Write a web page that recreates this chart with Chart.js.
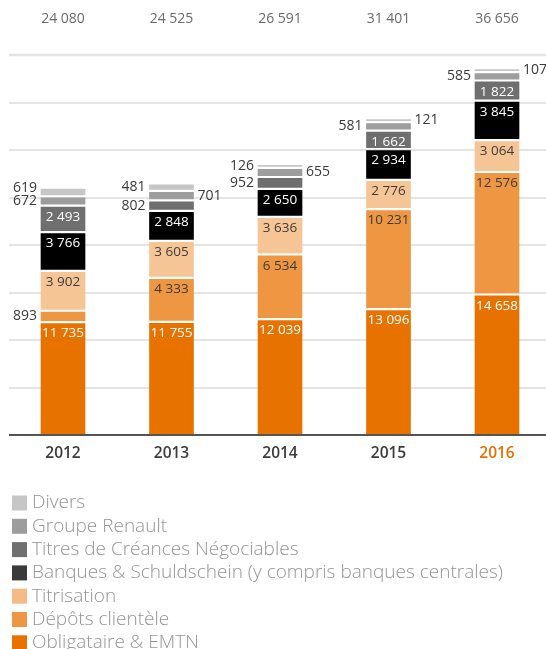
<!DOCTYPE html>
<html>
<head>
<meta charset="utf-8">
<script src="https://cdn.jsdelivr.net/npm/chart.js@4"></script>
<style>
  body { margin: 0; background: #fff; }
  #wrap { width: 546px; height: 649px; }
</style>
</head>
<body>
<div id="wrap"><canvas id="mychart" width="546" height="649"></canvas></div>
<script>
const years = ['2012', '2013', '2014', '2015', '2016'];
const totals = [24080, 24525, 26591, 31401, 36656];

// series, from the bottom of the stack up
const obligataire = [11735, 11755, 12039, 13096, 14658];
const depots = [893, 4333, 6534, 10231, 12576];
const titrisation = [3902, 3605, 3636, 2776, 3064];
const banques = [3766, 2848, 2650, 2934, 3845];
const titresCreances = [2493, 802, 952, 1662, 1822];
const groupeRenault = [672, 701, 655, 581, 585];
const divers = [619, 481, 126, 121, 107];

const series = [
    { label: 'Obligataire & EMTN', values: obligataire, color: '#e87200', legend: '#e87200', text: '#ffffff' },
    { label: 'Dépôts clientèle', values: depots, color: '#ee9641', legend: '#ee9641', text: '#3c3c3c' },
    { label: 'Titrisation', values: titrisation, color: '#f6c595', legend: '#f4bb86', text: '#3c3c3c' },
    { label: 'Banques & Schuldschein (y compris banques centrales)', values: banques, color: '#000000', legend: '#3a3a3a', text: '#ffffff' },
    { label: 'Titres de Créances Négociables', values: titresCreances, color: '#6f6f6f', legend: '#6f6f6f', text: '#ffffff' },
    { label: 'Groupe Renault', values: groupeRenault, color: '#9d9d9d', legend: '#9d9d9d', text: '#3c3c3c' },
    { label: 'Divers', values: divers, color: '#c6c6c6', legend: '#c6c6c6', text: '#3c3c3c' }
];

// small segments whose label sits on the right of the bar
const rightLabels = ['1:Groupe Renault', '2:Groupe Renault', '3:Divers', '4:Divers'];

const GAP = 300; // white space between stacked pieces, in data units
const FONT = '"Open Sans", "DejaVu Sans", sans-serif';

function formatNumber(n) {
    return String(n).replace(/\B(?=(\d{3})+(?!\d))/g, ' ');
}

// floating bars so the pieces keep a small gap between them
let datasets = [];
let cum = [0, 0, 0, 0, 0];
for (let k = 0; k < series.length; k++) {
    let s = series[k];
    let data = [];
    for (let j = 0; j < years.length; j++) {
        let start = cum[j] + (k > 0 ? GAP : 0);
        let end = start + s.values[j];
        data.push([start, end]);
        cum[j] = end;
    }
    datasets.push({
        label: s.label,
        data: data,
        backgroundColor: s.color,
        borderWidth: 0,
        barThickness: 44,
        clip: false
    });
}

const gridPlugin = {
    id: 'grid',
    beforeDatasetsDraw(chart) {
        const c = chart.ctx;
        const y = chart.scales.y;
        c.save();
        y.ticks.forEach(t => {
            if (t.value <= 0) return;
            let py = Math.round(y.getPixelForValue(t.value));
            c.beginPath();
            c.strokeStyle = t.value >= y.max ? '#e3e3e3' : '#dcdcdc';
            c.lineWidth = t.value >= y.max ? 2.5 : 1.5;
            c.moveTo(9, py);
            c.lineTo(546, py);
            c.stroke();
        });
        c.restore();
    },
    afterDatasetsDraw(chart) {
        const c = chart.ctx;
        const y = chart.scales.y;
        const x = chart.scales.x;
        c.save();
        // base line
        let py = y.getPixelForValue(0);
        c.beginPath();
        c.strokeStyle = '#555555';
        c.lineWidth = 2;
        c.moveTo(9, py);
        c.lineTo(546, py);
        c.stroke();

        // totals on top
        c.font = '14px ' + FONT;
        c.fillStyle = '#6b6b6b';
        c.textAlign = 'center';
        c.textBaseline = 'middle';
        for (let j = 0; j < years.length; j++) {
            c.fillText(formatNumber(totals[j]), x.getPixelForValue(j), 19);
        }

        // segment labels
        for (let j = 0; j < years.length; j++) {
            let left = [], right = [];
            chart.data.datasets.forEach((ds, k) => {
                let el = chart.getDatasetMeta(k).data[j];
                let top = Math.min(el.y, el.base);
                let bottom = Math.max(el.y, el.base);
                let h = bottom - top;
                let txt = formatNumber(series[k].values[j]);
                if (h >= 14) {
                    c.font = '13.5px ' + FONT;
                    c.fillStyle = series[k].text;
                    c.textAlign = 'center';
                    c.fillText(txt, el.x, top + 10);
                } else {
                    let item = { txt: txt, y: (top + bottom) / 2, el: el };
                    if (rightLabels.indexOf(j + ':' + ds.label) >= 0) right.push(item);
                    else left.push(item);
                }
            });
            [[left, 'right', -1], [right, 'left', 1]].forEach(([items, align, dir]) => {
                items.sort((a, b) => b.y - a.y);
                let prev = null;
                items.forEach(it => {
                    if (prev !== null && it.y > prev - 13) it.y = prev - 13;
                    prev = it.y;
                    c.font = '14px ' + FONT;
                    c.fillStyle = '#3a3a3a';
                    c.textAlign = align;
                    c.fillText(it.txt, it.el.x + dir * (it.el.width / 2 + 4), it.y);
                });
            });
        }
        c.restore();
    },
    afterDraw(chart) {
        // legend, one entry per line, top of the stack first
        const c = chart.ctx;
        c.save();
        c.textAlign = 'left';
        c.textBaseline = 'middle';
        c.font = '300 19px ' + FONT;
        let rowY = 503;
        for (let k = series.length - 1; k >= 0; k--) {
            c.fillStyle = series[k].legend;
            c.fillRect(12, rowY - 7.5, 15, 15);
            c.fillStyle = '#959595';
            c.fillText(series[k].label, 32, rowY);
            rowY += 23.3;
        }
        c.restore();
    }
};

const ctx = document.getElementById('mychart');
const mychart = new Chart(ctx, {
    type: 'bar',
    data: {
        labels: years,
        datasets: datasets
    },
    options: {
        responsive: false,
        animation: false,
        layout: {
            padding: { top: 55, left: 63, right: 49, bottom: 174 }
        },
        plugins: {
            legend: { display: false },
            tooltip: { enabled: false }
        },
        scales: {
            x: {
                stacked: true,
                offset: false,
                grid: { display: false, drawTicks: false },
                border: { display: false },
                ticks: {
                    padding: 9,
                    color: (c) => c.index === 4 ? '#e87200' : '#3c3c3c',
                    font: { family: FONT, size: 15.5, weight: '600' }
                },
                afterFit(scale) { scale.height = 40; }
            },
            y: {
                display: false,
                min: 0,
                max: 40000,
                ticks: { stepSize: 5000 }
            }
        }
    },
    plugins: [gridPlugin]
});
</script>
</body>
</html>
